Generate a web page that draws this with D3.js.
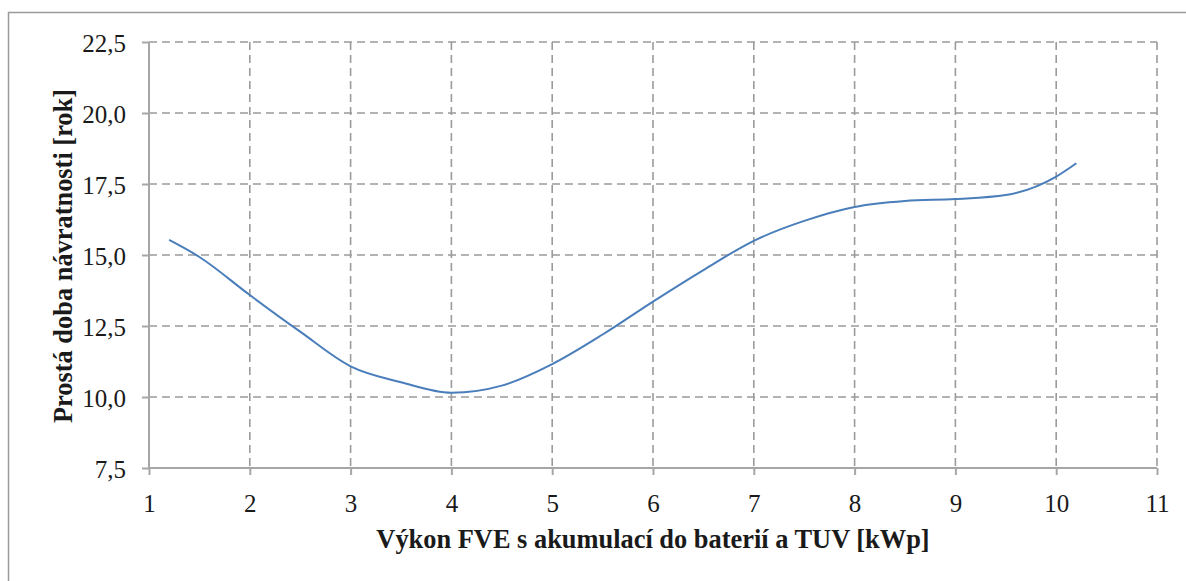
<!DOCTYPE html>
<html>
<head>
<meta charset="utf-8">
<script src="https://cdn.jsdelivr.net/npm/d3@7"></script>
</head>
<body style="margin:0">
<svg id="chart" width="1186" height="581" font-family="Liberation Serif"></svg>
<script>
// Installed PV power [kWp] and simple payback period [years]
const powerKWp = [1.2, 1.5, 2, 2.5, 3, 3.5, 4, 4.5, 5, 5.5, 6, 6.5, 7, 7.5, 8, 8.5, 9, 9.5, 10, 10.2];
const paybackYears = [15.53, 14.93, 13.59, 12.3, 11.08, 10.52, 10.15, 10.4, 11.16, 12.2, 13.36, 14.47, 15.5, 16.2, 16.69, 16.9, 16.97, 17.11, 17.76, 18.23];

const xTicks = [1, 2, 3, 4, 5, 6, 7, 8, 9, 10, 11];
const yTicks = [7.5, 10.0, 12.5, 15.0, 17.5, 20.0, 22.5];

const xTitle = "Výkon FVE s akumulací do baterií a TUV [kWp]";
const yTitle = "Prostá doba návratnosti [rok]";

const svg = d3.select("#chart");
const W = 1186, H = 581;
const plot = { left: 149, right: 1157, top: 42, bottom: 468 };
const serif = "Liberation Serif";

const x = d3.scaleLinear().domain([1, 11]).range([plot.left, plot.right]);
const y = d3.scaleLinear().domain([7.5, 22.5]).range([plot.bottom, plot.top]);

const fmt = v => d3.format(".1f")(v).replace(".", ",");

// outer chart frame
svg.append("rect")
  .attr("x", 8.5).attr("y", 12.5)
  .attr("width", W + 10).attr("height", H + 10)
  .attr("fill", "none").attr("stroke", "#9a9a9a").attr("stroke-width", 1.5);

const gridColor = "#9b9b9b";

// dashed horizontal gridlines
svg.append("g").selectAll("line")
  .data(yTicks.filter(v => v > 7.5))
  .join("line")
  .attr("x1", plot.left).attr("x2", plot.right)
  .attr("y1", d => y(d)).attr("y2", d => y(d))
  .attr("stroke", gridColor).attr("stroke-width", 1.6)
  .attr("stroke-dasharray", "8,5");

// dashed vertical gridlines
svg.append("g").selectAll("line")
  .data(xTicks.filter(v => v > 1))
  .join("line")
  .attr("x1", d => x(d)).attr("x2", d => x(d))
  .attr("y1", plot.top).attr("y2", plot.bottom)
  .attr("stroke", gridColor).attr("stroke-width", 1.6)
  .attr("stroke-dasharray", "8,5");

// axes
const axisColor = "#a6a6a6";
const xAxis = svg.append("g")
  .attr("transform", `translate(0,${plot.bottom})`)
  .call(d3.axisBottom(x).tickValues(xTicks).tickSize(7).tickPadding(18).tickFormat(d3.format("d")));
const yAxis = svg.append("g")
  .attr("transform", `translate(${plot.left},0)`)
  .call(d3.axisLeft(y).tickValues(yTicks).tickSize(7).tickPadding(16).tickFormat(fmt));

[xAxis, yAxis].forEach(g => {
  g.attr("font-family", null).attr("font-size", 25);
  g.select(".domain").attr("stroke", axisColor).attr("stroke-width", 2);
  g.selectAll(".tick line").attr("stroke", axisColor).attr("stroke-width", 2);
  g.selectAll(".tick text").attr("fill", "#1a1a1a").attr("font-family", serif);
});
xAxis.select(".domain").attr("d", `M${plot.left},0H${plot.right}`);
yAxis.select(".domain").attr("d", `M0,${plot.bottom}V${plot.top}`);
xAxis.selectAll(".tick text").attr("y", 26);
yAxis.selectAll(".tick text").attr("dy", "0.37em");

// payback curve
const line = d3.line()
  .x((d, i) => x(powerKWp[i]))
  .y(d => y(d))
  .curve(d3.curveMonotoneX);

svg.append("path")
  .datum(paybackYears)
  .attr("d", line)
  .attr("fill", "none")
  .attr("stroke", "#4a7ebb")
  .attr("stroke-width", 2);

// axis titles
svg.append("text")
  .attr("x", 653)
  .attr("y", 548)
  .attr("text-anchor", "middle")
  .attr("font-weight", "bold")
  .attr("font-size", 26.4)
  .attr("font-family", serif)
  .attr("fill", "#1a1a1a")
  .text(xTitle);

svg.append("text")
  .attr("transform", `translate(72,256) rotate(-90)`)
  .attr("text-anchor", "middle")
  .attr("font-weight", "bold")
  .attr("font-size", 26.4)
  .attr("font-family", serif)
  .attr("fill", "#1a1a1a")
  .text(yTitle);
</script>
</body>
</html>
